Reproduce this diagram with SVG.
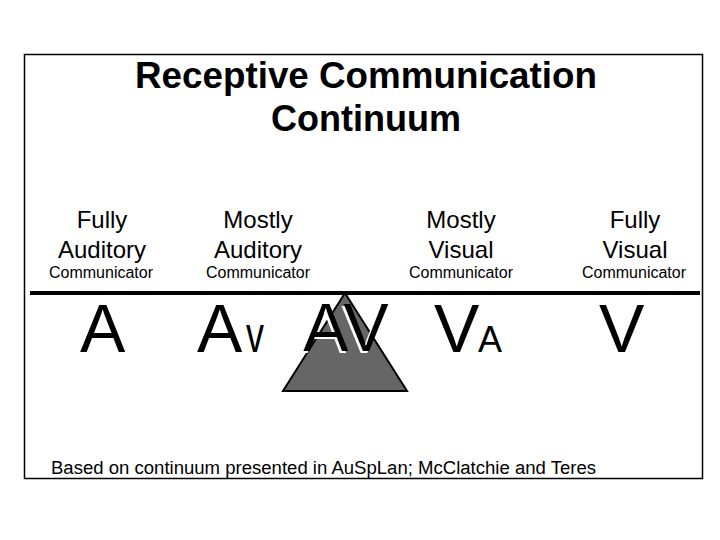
<svg xmlns="http://www.w3.org/2000/svg" width="720" height="540" viewBox="0 0 720 540">
<style>
text{font-family:"Liberation Sans",Arial,sans-serif;fill:#000}
.title{font-size:36px;font-weight:bold;text-anchor:middle}
.lbl{font-size:24px;text-anchor:middle}
.sub{font-size:16px;text-anchor:middle}
.big{font-size:68px}
.small{font-size:36px}
</style>
<defs>
<filter id="whiteShadow" x="-10%" y="-10%" width="120%" height="130%">
<feOffset in="SourceAlpha" dx="-2" dy="2" result="off"/>
<feFlood flood-color="#fff" result="w"/>
<feComposite in="w" in2="off" operator="in" result="sh"/>
<feMerge><feMergeNode in="sh"/><feMergeNode in="SourceGraphic"/></feMerge>
</filter>
</defs>
<rect x="0" y="0" width="720" height="540" fill="#fff"/>
<rect id="frame" x="24.5" y="54.5" width="678" height="424" fill="none" stroke="#000" stroke-width="1.5"/>
<g id="title">
<text class="title" x="366" y="88" textLength="462" lengthAdjust="spacingAndGlyphs">Receptive Communication</text>
<text class="title" x="366" y="131">Continuum</text>
</g>
<g id="connectors">
<line x1="30" y1="293" x2="700" y2="293" stroke="#000" stroke-width="4"/>
</g>
<g id="node-fully-auditory">
<text class="lbl" x="102" y="228">Fully</text>
<text class="lbl" x="102" y="258">Auditory</text>
<text class="sub" x="101" y="278">Communicator</text>
<text class="big" x="80" y="352">A</text>
</g>
<g id="node-mostly-auditory">
<text class="lbl" x="258" y="228">Mostly</text>
<text class="lbl" x="258" y="258">Auditory</text>
<text class="sub" x="258" y="278">Communicator</text>
<text x="197" y="352"><tspan class="big">A</tspan><tspan x="246" style="font-size:50px" textLength="18" lengthAdjust="spacingAndGlyphs">v</tspan></text>
</g>
<g id="node-av">
<polygon points="345,293 283,391 407,391" fill="#666" stroke="#000" stroke-width="2" stroke-linejoin="miter"/>
<text class="big" x="303" y="351" filter="url(#whiteShadow)">AV</text>
</g>
<g id="node-mostly-visual">
<text class="lbl" x="461" y="228">Mostly</text>
<text class="lbl" x="461" y="258">Visual</text>
<text class="sub" x="461" y="278">Communicator</text>
<text x="434" y="352"><tspan class="big">V</tspan><tspan class="small" x="478">A</tspan></text>
</g>
<g id="node-fully-visual">
<text class="lbl" x="635" y="228">Fully</text>
<text class="lbl" x="635" y="258">Visual</text>
<text class="sub" x="634" y="278">Communicator</text>
<text class="big" x="599" y="352">V</text>
</g>
<text x="51" y="474" style="font-size:18px" textLength="545" lengthAdjust="spacingAndGlyphs">Based on continuum presented in AuSpLan; McClatchie and Teres</text>
</svg>
